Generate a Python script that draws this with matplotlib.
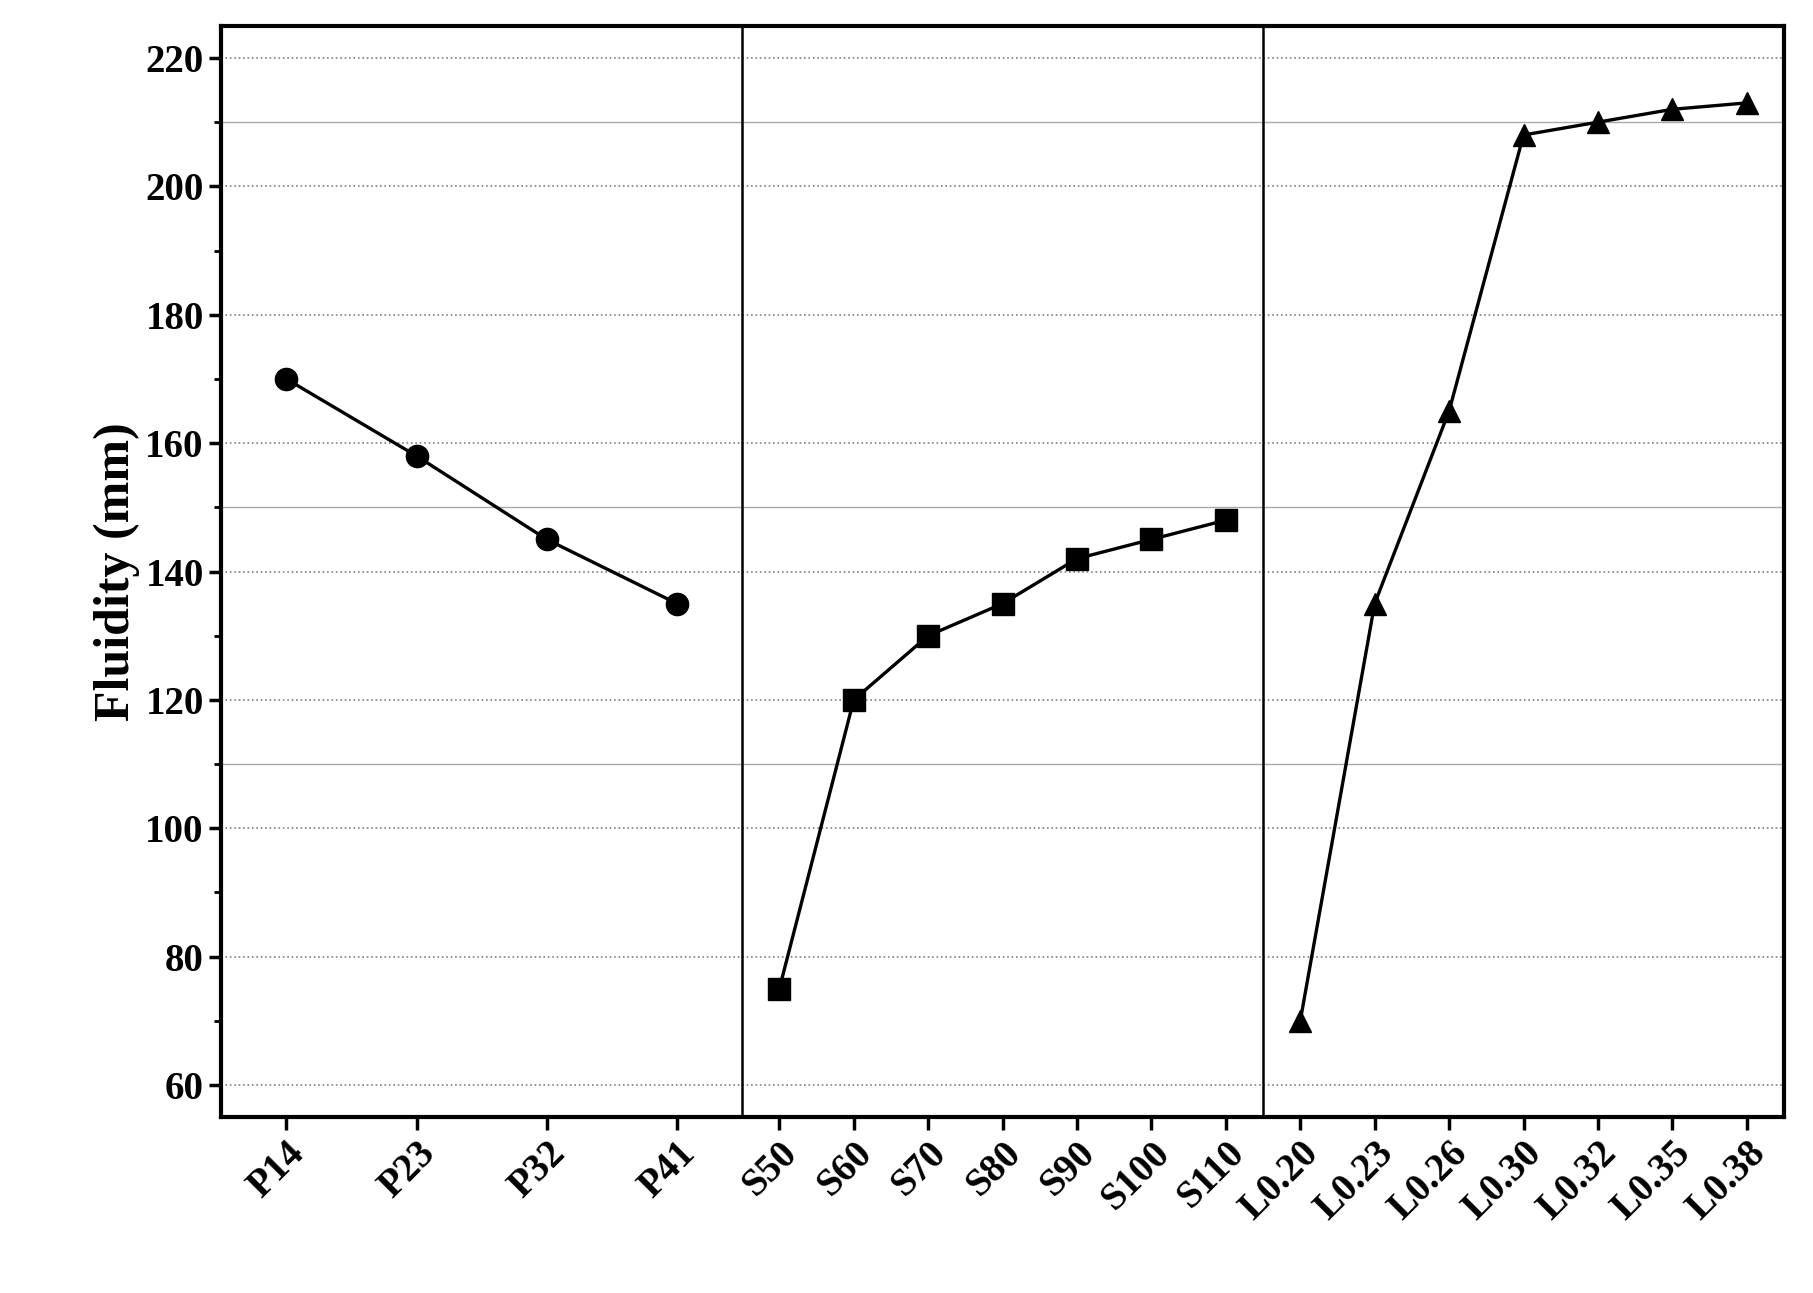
import numpy as np
import matplotlib.pyplot as plt

plt.rcParams['font.family'] = ['Liberation Serif', 'DejaVu Serif']

p_labels = ['P14', 'P23', 'P32', 'P41']
p_vals = [170, 158, 145, 135]
s_labels = ['S50', 'S60', 'S70', 'S80', 'S90', 'S100', 'S110']
s_vals = [75, 120, 130, 135, 142, 145, 148]
l_labels = ['L0.20', 'L0.23', 'L0.26', 'L0.30', 'L0.32', 'L0.35', 'L0.38']
l_vals = [70, 135, 165, 208, 210, 212, 213]

groups = [(p_labels, p_vals, 'o'), (s_labels, s_vals, 's'), (l_labels, l_vals, '^')]

fig = plt.figure(figsize=(18.13, 12.93), dpi=100)
ax = fig.add_axes([0.122, 0.136, 0.862, 0.844])

ticks, labels = [], []
for g, (lab, vals, m) in enumerate(groups):
    n = len(vals)
    x = g + (np.arange(n) + 0.5) / n
    ax.plot(x, vals, '-', color='black', lw=2.4, marker=m, ms=16, zorder=3)
    ticks += list(x)
    labels += lab

for y in range(60, 221, 20):
    ax.axhline(y, color='gray', ls=':', lw=1.2, zorder=1)
for y in [110, 150, 210]:
    ax.axhline(y, color='#aaaaaa', ls='-', lw=1.0, zorder=1)
for xv in [1, 2]:
    ax.axvline(xv, color='black', lw=1.8, zorder=2)

ax.set_xlim(0, 3)
ax.set_ylim(55, 225)
ax.set_yticks(range(60, 221, 20))
ax.set_yticks(range(60, 221, 10), minor=True)
ax.set_xticks(ticks)
ax.set_xticklabels(labels, rotation=45, ha='right', rotation_mode='anchor')
ax.tick_params(axis='both', which='major', labelsize=28, width=2.5, length=9)
ax.tick_params(axis='y', which='minor', width=2, length=5)
for t in ax.get_xticklabels() + ax.get_yticklabels():
    t.set_fontweight('bold')
for sp in ax.spines.values():
    sp.set_linewidth(3)
ax.set_ylabel('Fluidity (mm)', fontsize=36, fontweight='bold')

fig.savefig('out.png', dpi=100)
